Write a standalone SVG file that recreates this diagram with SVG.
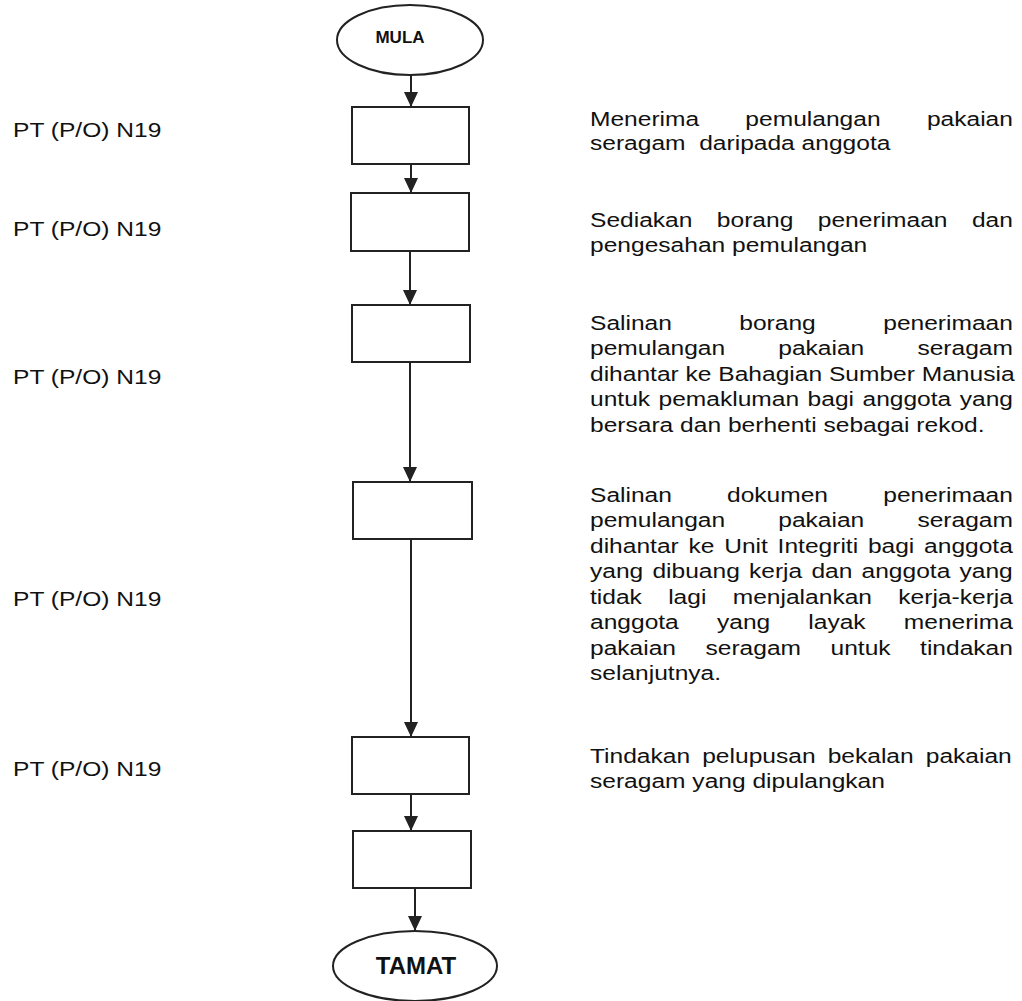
<svg xmlns="http://www.w3.org/2000/svg" width="1022" height="1001" viewBox="0 0 1022 1001">
<style>
.box{fill:#fff;stroke:#222;stroke-width:2}
.term{fill:#fff;stroke:#222;stroke-width:2}
.conn{stroke:#222;stroke-width:2;fill:none}
.t{font-family:"Liberation Sans",Arial,sans-serif;font-size:21px;fill:#111}
.tb{font-family:"Liberation Sans",Arial,sans-serif;font-weight:bold;fill:#111}
</style>
<defs>
<marker id="ah" markerUnits="userSpaceOnUse" markerWidth="15" markerHeight="14" refX="15" refY="7" orient="auto" viewBox="0 0 15 14">
<path d="M0,0 L15,7 L0,14 Z" fill="#222"/>
</marker>
</defs>
<rect width="1022" height="1001" fill="#fff"/>

<g id="connectors">
<line class="conn" x1="411" y1="75" x2="411" y2="107" marker-end="url(#ah)"/>
<line class="conn" x1="411" y1="164" x2="411" y2="193" marker-end="url(#ah)"/>
<line class="conn" x1="410" y1="251" x2="410" y2="305" marker-end="url(#ah)"/>
<line class="conn" x1="410" y1="362" x2="410" y2="482" marker-end="url(#ah)"/>
<line class="conn" x1="411" y1="539" x2="411" y2="737" marker-end="url(#ah)"/>
<line class="conn" x1="411" y1="794" x2="411" y2="831" marker-end="url(#ah)"/>
<line class="conn" x1="415" y1="888" x2="415" y2="931" marker-end="url(#ah)"/>
</g>

<g id="mula">
<ellipse class="term" cx="410" cy="40" rx="73" ry="35"/>
<text class="tb" x="400" y="43" font-size="17" text-anchor="middle">MULA</text>
</g>
<g id="step1"><rect class="box" x="352" y="107" width="117" height="57"/></g>
<g id="step2"><rect class="box" x="351" y="193" width="118" height="58"/></g>
<g id="step3"><rect class="box" x="352" y="305" width="118" height="57"/></g>
<g id="step4"><rect class="box" x="353" y="482" width="119" height="57"/></g>
<g id="step5"><rect class="box" x="352" y="737" width="117" height="57"/></g>
<g id="step6"><rect class="box" x="353" y="831" width="118" height="57"/></g>
<g id="tamat">
<ellipse class="term" cx="415" cy="966" rx="82" ry="35"/>
<text class="tb" x="416" y="974" font-size="24" text-anchor="middle">TAMAT</text>
</g>

<g id="roles" transform="translate(13 0) scale(1.17 1)">
<text class="t" x="0" y="137">PT (P/O) N19</text>
<text class="t" x="0" y="236">PT (P/O) N19</text>
<text class="t" x="0" y="384">PT (P/O) N19</text>
<text class="t" x="0" y="606">PT (P/O) N19</text>
<text class="t" x="0" y="776">PT (P/O) N19</text>
</g>

<g id="descriptions" transform="translate(590 0) scale(1.17 1)">
<text class="t" y="126"><tspan x="0">Menerima</tspan><tspan x="132.8">pemulangan</tspan><tspan x="361.5" text-anchor="end">pakaian</tspan></text>
<text class="t" y="150" xml:space="preserve" x="0">seragam  daripada anggota</text>

<text class="t" y="227"><tspan x="0">Sediakan</tspan><tspan x="108.4">borang</tspan><tspan x="194.7">penerimaan</tspan><tspan x="361.5" text-anchor="end">dan</tspan></text>
<text class="t" y="252" x="0">pengesahan pemulangan</text>

<text class="t" y="330"><tspan x="0">Salinan</tspan><tspan x="127.6">borang</tspan><tspan x="361.5" text-anchor="end">penerimaan</tspan></text>
<text class="t" y="355.5"><tspan x="0">pemulangan</tspan><tspan x="160.9">pakaian</tspan><tspan x="361.5" text-anchor="end">seragam</tspan></text>
<text class="t" y="381" x="0">dihantar ke Bahagian Sumber Manusia</text>
<text class="t" y="406.5" x="0" word-spacing="1.4">untuk pemakluman bagi anggota yang</text>
<text class="t" y="432" x="0">bersara dan berhenti sebagai rekod.</text>

<text class="t" y="502"><tspan x="0">Salinan</tspan><tspan x="117.1">dokumen</tspan><tspan x="361.5" text-anchor="end">penerimaan</tspan></text>
<text class="t" y="527.5"><tspan x="0">pemulangan</tspan><tspan x="160.9">pakaian</tspan><tspan x="361.5" text-anchor="end">seragam</tspan></text>
<text class="t" y="553" x="0" word-spacing="2.5">dihantar ke Unit Integriti bagi anggota</text>
<text class="t" y="578.5" x="0" word-spacing="2">yang dibuang kerja dan anggota yang</text>
<text class="t" y="604"><tspan x="0">tidak</tspan><tspan x="66.8">lagi</tspan><tspan x="122">menjalankan</tspan><tspan x="361.5" text-anchor="end">kerja-kerja</tspan></text>
<text class="t" y="629.5"><tspan x="0">anggota</tspan><tspan x="108.5">yang</tspan><tspan x="186.6">layak</tspan><tspan x="361.5" text-anchor="end">menerima</tspan></text>
<text class="t" y="655"><tspan x="0">pakaian</tspan><tspan x="98.7">seragam</tspan><tspan x="205.6">untuk</tspan><tspan x="361.5" text-anchor="end">tindakan</tspan></text>
<text class="t" y="680.5" x="0">selanjutnya.</text>

<text class="t" y="763" x="0" word-spacing="4.5">Tindakan pelupusan bekalan pakaian</text>
<text class="t" y="788" x="0">seragam yang dipulangkan</text>
</g>
</svg>
